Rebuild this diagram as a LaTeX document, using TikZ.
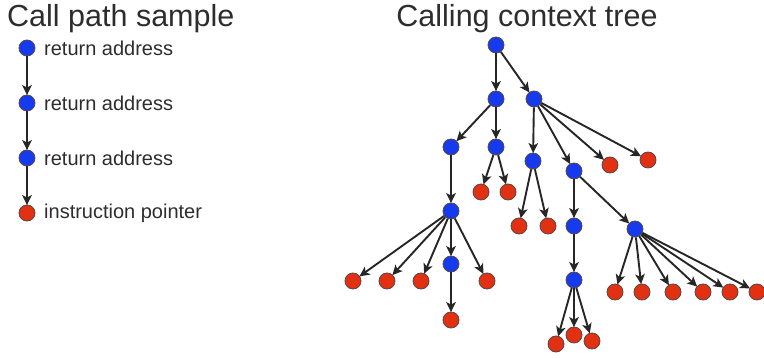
\documentclass[tikz,border=0pt]{standalone}
\usepackage{fontspec}
\setmainfont{Liberation Sans}
\usetikzlibrary{arrows.meta}
\definecolor{callblue}{RGB}{22,58,238}
\definecolor{callred}{RGB}{226,48,18}
\definecolor{ringgray}{RGB}{90,70,70}
\definecolor{txtgray}{RGB}{45,45,45}
\tikzset{
  frame/.style={x=1pt,y=-1pt},
  fn/.style={circle,draw=ringgray,line width=0.8pt,minimum size=16pt,inner sep=0pt},
  bnode/.style={fn,fill=callblue},
  rnode/.style={fn,fill=callred},
  edge/.style={draw=black!85,line width=1.9pt,-{Stealth[length=10pt,width=9.5pt,inset=2.5pt]},shorten >=-0.5pt},
  title/.style={font=\fontsize{30.5}{33}\selectfont,text=txtgray,inner sep=0pt},
  lbl/.style={font=\fontsize{20}{22}\selectfont,text=txtgray,anchor=west,inner sep=0pt}
}
\begin{document}
\begin{tikzpicture}[frame]
\useasboundingbox (0,0) rectangle (764,358);

% headings
\node[title,anchor=west] (t1) at (7,19) {Call path sample};
\node[title] (t2) at (527,19) {Calling context tree};

% call path sample
\node[bnode] (p1) at (27,48) {};
\node[bnode] (p2) at (27,103) {};
\node[bnode] (p3) at (27,158) {};
\node[rnode] (p4) at (27,213) {};
\node[lbl] (l1) at (44,48) {return address};
\node[lbl] (l2) at (44,103) {return address};
\node[lbl] (l3) at (44,158) {return address};
\node[lbl] (l4) at (44,213) {instruction pointer};
\foreach \a/\b in {p1/p2,p2/p3,p3/p4} \draw[edge] (\a) -- (\b);

% calling context tree: interior nodes
\node[bnode] (r) at (496,45) {};
\node[bnode] (a) at (496,99) {};
\node[bnode] (b) at (534,99) {};
\node[bnode] (c) at (451,147) {};
\node[bnode] (d) at (496,147) {};
\node[bnode] (e) at (533,161) {};
\node[bnode] (f) at (574,171) {};
\node[bnode] (g) at (574,226) {};
\node[bnode] (h) at (635,229) {};
\node[bnode] (i) at (574,280) {};
\node[bnode] (j) at (451,211) {};
\node[bnode] (k) at (451,264) {};

% leaves
\node[rnode] (d1) at (481,192) {};
\node[rnode] (d2) at (508,192) {};
\node[rnode] (b1) at (610,165) {};
\node[rnode] (b2) at (648,160) {};
\node[rnode] (e1) at (519,226) {};
\node[rnode] (e2) at (548,226) {};
\node[rnode] (j1) at (353,281) {};
\node[rnode] (j2) at (387,281) {};
\node[rnode] (j3) at (421,281) {};
\node[rnode] (j4) at (487,281) {};
\node[rnode] (k1) at (451,320) {};
\node[rnode] (i1) at (556,344) {};
\node[rnode] (i2) at (574,335) {};
\node[rnode] (i3) at (592,341) {};
\node[rnode] (h1) at (615,292) {};
\node[rnode] (h2) at (642,292) {};
\node[rnode] (h3) at (673,292) {};
\node[rnode] (h4) at (703,292) {};
\node[rnode] (h5) at (730,292) {};
\node[rnode] (h6) at (757,292) {};

% edges
\foreach \a/\b in {r/a,r/b,a/c,a/d,d/d1,d/d2,b/e,b/f,b/b1,b/b2,e/e1,e/e2,
                   f/g,f/h,g/i,i/i1,i/i2,i/i3,
                   h/h1,h/h2,h/h3,h/h4,h/h5,h/h6,
                   c/j,j/j1,j/j2,j/j3,j/k,j/j4,k/k1}
  \draw[edge] (\a) -- (\b);
\end{tikzpicture}
\end{document}
